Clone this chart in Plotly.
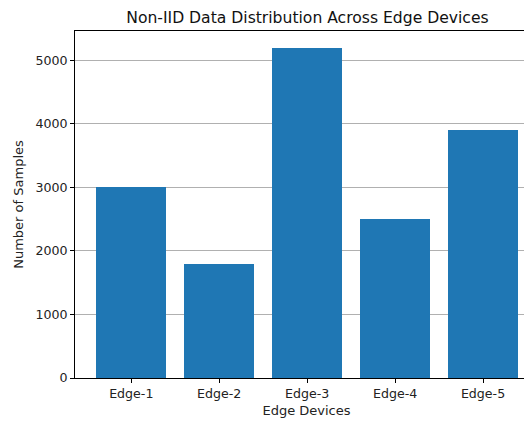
import plotly.graph_objects as go

categories = ["Edge-1", "Edge-2", "Edge-3", "Edge-4", "Edge-5"]
samples = [3000, 1800, 5200, 2500, 3900]

FONT = "DejaVu Sans"
fig = go.Figure(go.Bar(
    x=list(range(len(categories))), y=samples,
    width=0.8, marker=dict(color="#1f77b4", line=dict(width=0)),
))

fig.update_layout(
    width=530, height=414,
    margin=dict(l=67, r=0, t=23, b=44),
    paper_bgcolor="white", plot_bgcolor="white",
    font=dict(family=FONT, size=12.5, color="#222"),
    title=dict(text="Non-IID Data Distribution Across Edge Devices",
               x=0.565, xanchor="center", y=0.976, yanchor="middle",
               font=dict(size=15.6, family=FONT, color="#111")),
    showlegend=False, bargap=0,
)
fig.update_xaxes(
    range=[-0.64, 4.625], tickvals=list(range(len(categories))), ticktext=categories,
    showline=True, linecolor="black", linewidth=1, mirror=True,
    ticks="outside", ticklen=4, tickcolor="black", showgrid=False, zeroline=False,
    title=dict(text="Edge Devices", standoff=5, font=dict(size=13)),
    tickfont=dict(size=12.6),
)
fig.update_yaxes(
    range=[0, 5460], tickvals=[0, 1000, 2000, 3000, 4000, 5000],
    showline=True, linecolor="black", linewidth=1,
    ticks="outside", ticklen=4, tickcolor="black",
    showgrid=True, gridcolor="#b0b0b0", gridwidth=0.8, zeroline=False,
    title=dict(text="Number of Samples", standoff=8, font=dict(size=13)),
    tickfont=dict(size=12.6),
)
fig.write_html("out.html")
